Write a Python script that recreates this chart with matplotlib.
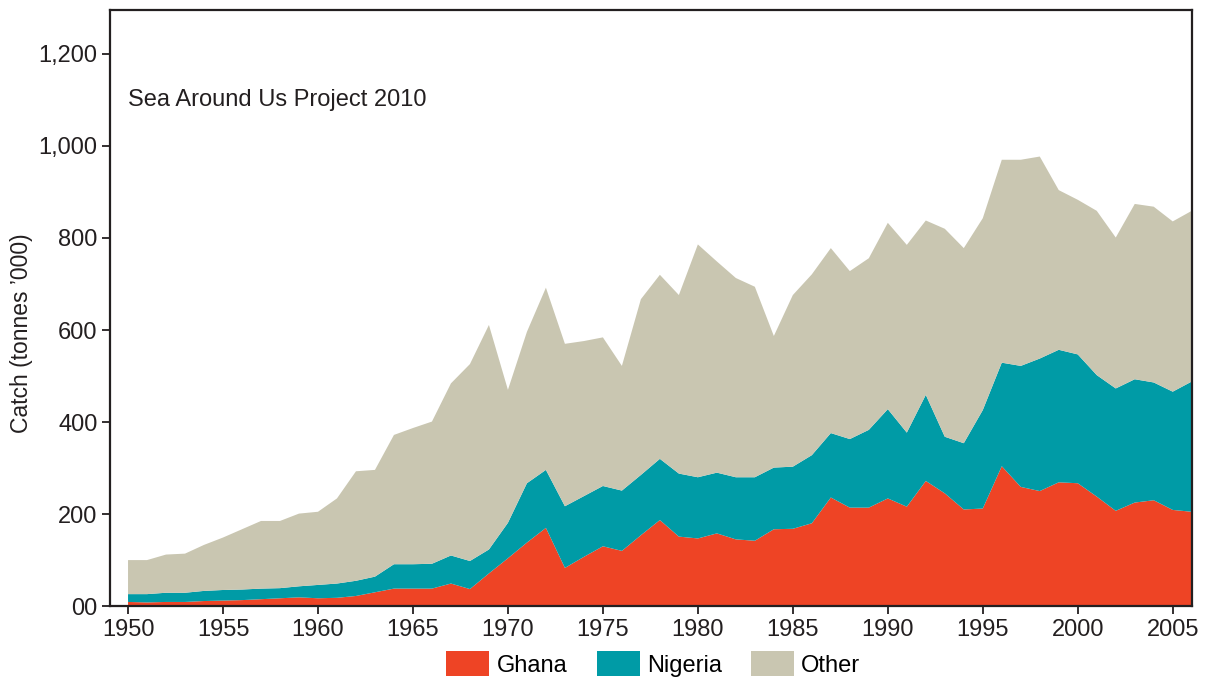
import matplotlib
matplotlib.use("Agg")
import matplotlib.pyplot as plt
import numpy as np

plt.rcParams['font.family'] = ['Liberation Sans', 'DejaVu Sans']

# Catch by country, thousand tonnes
years = list(range(1950, 2007))
ghana = [9, 8, 9, 9, 11, 12, 13, 15, 17, 19,
         17, 18, 22, 30, 38, 38, 38, 49, 37, 71,
         104, 138, 170, 83, 107, 130, 120, 154, 187, 151,
         147, 158, 145, 142, 167, 168, 180, 236, 214, 214,
         234, 216, 272, 245, 210, 212, 304, 259, 250, 269,
         267, 238, 207, 225, 230, 209, 205]
nigeria = [17, 18, 20, 20, 22, 23, 23, 23, 22, 24,
           29, 31, 33, 34, 53, 53, 54, 61, 61, 52,
           77, 129, 126, 134, 132, 131, 131, 131, 133, 137,
           133, 132, 135, 138, 134, 135, 148, 140, 149, 169,
           194, 161, 187, 123, 144, 214, 225, 263, 288, 288,
           280, 264, 266, 268, 256, 257, 283]
other = [74, 74, 83, 85, 100, 114, 131, 147, 146, 158,
         159, 185, 238, 232, 281, 296, 309, 374, 428, 488,
         289, 329, 396, 353, 337, 323, 271, 382, 400, 388,
         506, 459, 433, 414, 286, 373, 393, 402, 365, 373,
         405, 408, 379, 452, 424, 417, 441, 448, 439, 347,
         336, 357, 328, 381, 382, 370, 371]
series_names = ['Ghana', 'Nigeria', 'Other']
colors = ['#EE4425', '#009BA6', '#C9C6B1']

yticks = [0, 200, 400, 600, 800, 1000, 1200]
ytick_labels = ['00', '200', '400', '600', '800', '1,000', '1,200']
xticks = list(range(1950, 2006, 5))

fig = plt.figure(figsize=(12.1, 6.81), dpi=100)
ax = fig.add_axes([0.0909, 0.110, 0.894, 0.875])

ax.stackplot(years, ghana, nigeria, other, colors=colors,
             labels=series_names, linewidth=0)

ax.set_xlim(1949.05, 2006)
ax.set_ylim(0, 1295)
ax.set_yticks(yticks)
ax.set_yticklabels(ytick_labels)
ax.set_xticks(xticks)

for s in ax.spines.values():
    s.set_linewidth(1.6)
    s.set_color('#231f20')
ax.tick_params(axis='both', direction='out', length=6, width=1.3,
               color='#231f20', labelsize=17, labelcolor='#231f20', pad=3)

ax.set_ylabel("Catch (tonnes \u2019000)", fontsize=16.5, color='#231f20')
ax.yaxis.set_label_coords(-0.071, 0.458)
ax.text(1950, 1100, 'Sea Around Us Project 2010', fontsize=17,
        color='#231f20', va='center', ha='left')

fig.legend(loc='center', bbox_to_anchor=(0.54, 0.025), ncol=3, frameon=False,
           fontsize=17, handlelength=1.82, handleheight=1.27,
           handletextpad=0.3, columnspacing=1.25)

fig.savefig('out.png', dpi=100)
